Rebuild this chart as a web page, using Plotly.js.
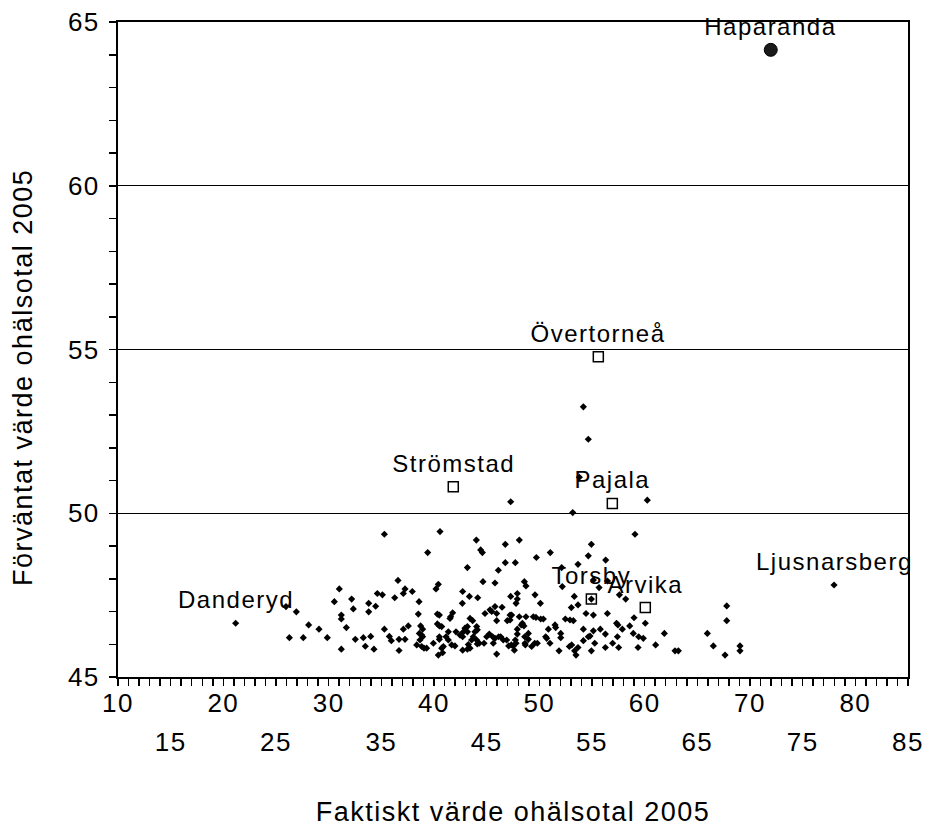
<!DOCTYPE html>
<html>
<head>
<meta charset="utf-8">
<script src="https://cdn.plot.ly/plotly-3.0.1.min.js"></script>
<style>
  html, body { margin: 0; padding: 0; background: #fff; }
  #chart { width: 925px; height: 827px; }
  .js-plotly-plot text { letter-spacing: 1.5px; }
</style>
</head>
<body>
<div id="chart"></div>
<script>
// ---------- data ----------
const dotX = [
  54.18, 54.65, 47.28, 60.25, 53.17, 53.8,
  26.27, 25.95, 26.93, 27.59, 28.10, 29.08, 29.87, 30.54, 31.01, 31.20, 31.20, 31.20, 31.68, 32.18,
  32.34, 32.53, 33.29, 33.48, 33.80, 33.80, 33.99, 34.30, 34.46, 34.62, 35.10, 35.29, 35.29, 35.76,
  35.95, 36.27, 36.58, 36.68, 36.68,
  40.57, 39.40, 44.02, 44.43, 44.59, 46.77, 48.10, 47.72, 46.77, 46.11, 43.17, 49.72, 51.04, 52.12,
  54.94, 54.65, 53.67, 56.30, 59.08, 55.13, 52.18, 55.67, 56.47,
  37.25, 37.09, 37.94, 38.58, 40.19, 40.41, 42.72, 43.36, 44.15, 42.69, 44.65, 45.79, 48.58, 48.73,
  49.59, 50.10, 47.28, 47.91, 47.91, 47.79, 53.32, 53.04, 53.67,
  54.43, 55.13, 56.46, 57.60, 58.20, 57.33, 57.46, 58.99, 60.06, 61.87, 61.04, 62.88, 63.20, 59.37,
  59.43, 59.87, 58.92, 58.58, 57.88, 57.41, 57.53, 56.96, 56.27, 56.27, 55.79, 55.26, 54.94, 55.13,
  54.65, 54.81, 54.18, 54.18, 53.67, 53.35, 53.48, 53.07, 52.85, 52.47, 52.91, 53.23, 51.87, 52.03,
  52.03, 51.49, 51.55, 50.86, 50.60, 50.70, 51.01, 50.13, 50.38, 49.43, 49.68, 48.96, 48.61, 48.96,
  48.64, 48.67, 49.56, 49.81, 49.27, 48.73, 48.39, 48.54, 48.29, 47.91, 48.10, 47.91, 47.72, 47.79,
  47.53, 47.63, 47.22, 47.37, 47.22, 46.96, 46.90, 47.09, 47.34, 46.58, 46.33, 45.95, 45.95, 45.79,
  46.46, 45.32, 45.48, 44.84, 45.00, 45.25, 45.57, 45.79, 46.14, 45.63, 45.95, 44.75, 44.30, 44.11,
  44.05, 44.11, 43.89, 43.73, 44.05, 43.57, 43.42, 43.67, 43.17, 42.94, 42.79, 43.17, 42.72, 43.26,
  43.42, 43.17, 42.72, 42.47, 42.09, 41.58, 41.77, 41.52, 41.36, 41.14, 41.36, 41.68, 41.99, 40.89,
  40.73, 40.51, 40.73, 40.32, 40.51, 40.32, 40.51, 40.51, 40.82, 40.41, 39.94, 39.30, 39.05, 38.83,
  38.67, 38.92, 38.83, 38.61, 38.92, 38.73, 38.36, 38.51, 37.56, 37.09, 37.25,
  67.79, 67.79, 65.95, 66.52, 67.63, 69.05, 69.05
];
const dotY = [
  53.25, 52.26, 50.35, 50.40, 50.02, 51.1,
  46.20, 47.15, 46.99, 46.20, 46.59, 46.46, 46.20, 47.30, 47.69, 46.89, 46.77, 45.85, 46.51, 47.38,
  47.08, 46.15, 46.20, 45.94, 47.25, 46.99, 46.24, 45.85, 47.16, 47.55, 47.51, 49.36, 46.46, 46.24,
  46.11, 47.42, 47.95, 46.15, 45.81,
  49.44, 48.80, 49.18, 48.88, 48.80, 49.05, 49.18, 48.49, 48.49, 48.26, 48.34, 48.65, 48.80, 48.34,
  49.05, 48.70, 48.44, 48.57, 49.36, 47.96, 47.76, 47.73, 47.93,
  47.69, 47.55, 47.61, 47.30, 47.69, 47.83, 47.61, 47.46, 47.42, 47.25, 47.91, 47.87, 47.91, 47.78,
  47.51, 47.25, 47.46, 47.55, 47.38, 47.25, 47.46, 47.12, 47.20,
  46.94, 46.89, 46.94, 47.51, 47.38, 46.64, 46.59, 46.81, 46.64, 46.33, 45.98, 45.80, 45.80, 45.90,
  46.23, 46.18, 46.33, 46.56, 46.46, 46.23, 45.90, 46.03, 46.31, 45.90, 46.46, 46.03, 45.80, 46.41,
  46.23, 46.25, 46.46, 46.11, 45.90, 45.80, 45.67, 45.98, 45.93, 46.77, 46.74, 46.72, 45.80, 46.33,
  46.20, 46.59, 46.51, 46.46, 46.23, 46.18, 46.03, 46.77, 46.77, 46.84, 46.82, 46.33, 46.23, 46.15,
  46.03, 45.98, 46.03, 46.03, 45.93, 46.84, 46.64, 46.56, 46.59, 46.46, 46.84, 46.31, 46.13, 46.03,
  45.95, 45.82, 46.89, 46.89, 46.74, 46.72, 46.13, 45.95, 45.98, 46.13, 46.23, 46.72, 46.94, 47.15,
  47.13, 47.05, 47.00, 46.94, 46.23, 46.31, 46.23, 46.18, 46.23, 46.03, 45.70, 46.03, 46.03, 46.01,
  46.54, 46.44, 46.38, 46.23, 46.13, 46.13, 46.79, 46.72, 46.54, 46.49, 46.38, 46.38, 46.23, 45.99,
  45.88, 45.85, 45.82, 46.28, 46.38, 46.84, 46.96, 46.79, 46.38, 46.23, 46.13, 45.98, 45.95, 45.93,
  45.88, 46.56, 46.54, 46.62, 46.89, 46.92, 46.23, 46.15, 45.74, 45.67, 46.03, 45.88, 45.88, 45.93,
  46.13, 46.23, 46.28, 46.33, 46.46, 46.56, 45.98, 46.92, 46.56, 46.46, 46.15,
  47.17, 46.72, 46.33, 45.95, 45.67, 45.95, 45.80
];

const labelNames = ["Haparanda", "Övertorneå", "Strömstad", "Pajala", "Torsby", "Arvika", "Ljusnarsberg", "Danderyd"];
const labelX = [71.97, 55.60, 41.83, 56.93, 54.94, 60.06, 77.98, 21.17];
const labelY = [64.15, 54.78, 50.81, 50.30, 47.38, 47.12, 47.81, 46.64];
const labelKind = ["big", "square", "square", "square", "squaredot", "square", "dot", "dot"];

const xTicksRow1 = [10, 20, 30, 40, 50, 60, 70, 80];
const xTicksRow2 = [15, 25, 35, 45, 55, 65, 75, 85];
const yTicks = [45, 50, 55, 60, 65];

const xTitle = "Faktiskt värde ohälsotal 2005";
const yTitle = "Förväntat värde ohälsotal 2005";

// ---------- build ----------
const FONT = "Liberation Sans, Arial, Helvetica, sans-serif";

const pick = (arr, kinds) => arr.filter((_, i) => kinds.includes(labelKind[i]));

const traces = [
  {
    type: "scatter", mode: "markers", x: dotX, y: dotY,
    marker: { symbol: "diamond", size: 5.5, color: "#000" },
    hoverinfo: "x+y", showlegend: false
  },
  {
    type: "scatter", mode: "markers",
    x: pick(labelX, ["dot", "squaredot"]), y: pick(labelY, ["dot", "squaredot"]),
    marker: { symbol: "diamond", size: 5.5, color: "#000" },
    showlegend: false
  },
  {
    type: "scatter", mode: "markers",
    x: pick(labelX, ["square", "squaredot"]), y: pick(labelY, ["square", "squaredot"]),
    marker: { symbol: "square-open", size: 10, color: "#000", line: { width: 1.5, color: "#000" } },
    showlegend: false
  },
  {
    type: "scatter", mode: "markers",
    x: pick(labelX, ["big"]), y: pick(labelY, ["big"]),
    marker: { symbol: "circle", size: 13, color: "#1a1a1a", line: { width: 1, color: "#000" } },
    showlegend: false
  },
  { type: "scatter", mode: "markers", x: [], y: [], xaxis: "x2", showlegend: false, hoverinfo: "skip" }
];

const annotations = labelNames.map((n, i) => ({
  x: labelX[i], y: labelY[i], xref: "x", yref: "y",
  text: n, showarrow: false, xanchor: "center", yanchor: "bottom", yshift: 8,
  font: { family: FONT, size: 24, color: "#000" }
}));

// y-axis title placed as a rotated text, slightly below the plot's middle as in the reference
annotations.push({
  x: 0, y: 0.5, xref: "paper", yref: "paper", xanchor: "center", yanchor: "middle",
  xshift: -96, yshift: -28, textangle: -90, showarrow: false,
  text: yTitle, font: { family: FONT, size: 27, color: "#000" }
});

const layout = {
  width: 925, height: 827,
  margin: { l: 118, r: 17, t: 22, b: 150 },
  paper_bgcolor: "#fff", plot_bgcolor: "#fff",
  showlegend: false,
  font: { family: FONT, size: 26, color: "#000" },
  xaxis: {
    range: [10, 85], tickmode: "array", tickvals: xTicksRow1, ticktext: xTicksRow1.map(String),
    ticks: "outside", ticklen: 7, tickwidth: 1.5, tickcolor: "#000",
    minor: { dtick: 1, tick0: 10, ticks: "outside", ticklen: 7, tickwidth: 1.5, tickcolor: "#000", showgrid: false },
    showline: true, linewidth: 2, linecolor: "#000", mirror: true,
    showgrid: false, zeroline: false,
    ticklabelstandoff: -5,
    tickfont: { family: FONT, size: 26, color: "#000" },
    title: { text: xTitle, standoff: 89, font: { family: FONT, size: 27, color: "#000" } }
  },
  xaxis2: {
    overlaying: "x", anchor: "y", side: "bottom", matches: "x",
    range: [10, 85], tickmode: "array", tickvals: xTicksRow2, ticktext: xTicksRow2.map(String),
    ticks: "outside", ticklen: 7, tickwidth: 1.5, tickcolor: "#000",
    ticklabelstandoff: 35,
    showline: false, showgrid: false, zeroline: false,
    tickfont: { family: FONT, size: 26, color: "#000" }
  },
  yaxis: {
    range: [45, 65], tickmode: "array", tickvals: yTicks, ticktext: yTicks.map(String),
    ticks: "outside", ticklen: 7, tickwidth: 1.5, tickcolor: "#000",
    minor: { dtick: 1, tick0: 45, ticks: "outside", ticklen: 7, tickwidth: 1.5, tickcolor: "#000", showgrid: false },
    showline: true, linewidth: 2, linecolor: "#000", mirror: true,
    showgrid: true, gridcolor: "#000", gridwidth: 1, zeroline: false,
    ticklabelstandoff: 4,
    tickfont: { family: FONT, size: 26, color: "#000" }
  },
  annotations: annotations
};

Plotly.newPlot("chart", traces, layout, { displayModeBar: false, staticPlot: true });
</script>
</body>
</html>
